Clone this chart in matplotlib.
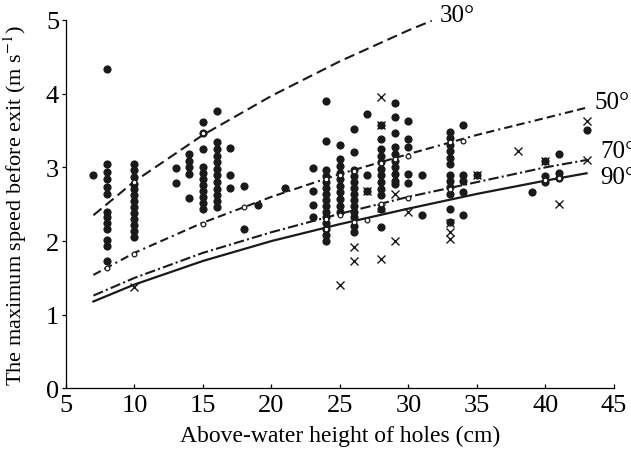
"""Max speed before exit vs above-water hole height, with 30/50/70/90 deg curves."""
import matplotlib; matplotlib.use("Agg")
import matplotlib.pyplot as plt

# ---- data ----
# filled dots: height (cm) -> speeds (m/s)
dots = {
    7: [2.89],
    8: [4.34, 3.04, 2.94, 2.84, 2.74, 2.64, 2.40, 2.32, 2.24, 2.16, 2.02, 1.93, 1.73],
    10: [3.05, 2.96, 2.87, 2.78, 2.70, 2.62, 2.54, 2.46, 2.38, 2.30, 2.22, 2.14, 2.06],
    13: [2.99, 2.79],
    14: [3.18, 3.09, 3.00, 2.91, 2.59],
    15: [3.62, 3.46, 3.25, 3.00, 2.92, 2.84, 2.76, 2.68, 2.60, 2.52, 2.44],
    16: [3.76, 3.34, 3.25, 3.16, 3.07, 2.98, 2.89, 2.80, 2.71, 2.62, 2.54, 2.46],
    17: [3.26, 2.90, 2.72],
    18: [2.75, 2.16],
    19: [2.49],
    21: [2.72],
    23: [2.99, 2.68, 2.49, 2.33],
    24: [3.90, 3.36, 2.96, 2.88, 2.80, 2.72, 2.64, 2.56, 2.48, 2.40, 2.32, 2.24, 2.16, 2.08, 2.00],
    25: [3.30, 3.11, 3.02, 2.93, 2.84, 2.75, 2.66, 2.57, 2.48, 2.39],
    26: [3.52, 3.21, 2.96, 2.88, 2.80, 2.72, 2.64, 2.56, 2.48, 2.40, 2.32, 2.20, 2.12],
    27: [3.72, 2.89, 2.68],
    28: [3.58, 3.39, 3.25, 3.16, 3.07, 2.98, 2.89, 2.80, 2.71, 2.62, 2.44, 2.19],
    29: [3.88, 3.68, 3.47, 3.27, 3.18, 3.09, 3.00, 2.91, 2.82, 2.77],
    30: [3.63, 3.39, 3.27, 2.91, 2.79],
    31: [2.90, 2.35],
    33: [3.48, 3.40, 3.31, 3.22, 3.13, 3.04, 2.90, 2.82, 2.74, 2.64, 2.44, 2.26],
    34: [3.57, 2.89, 2.81, 2.67, 2.35],
    35: [2.90],
    39: [2.67],
    40: [3.09, 2.88, 2.80],
    41: [3.18, 2.93, 2.86],
    43: [3.51],
}
open_x = [8, 10, 10, 15, 15, 18, 24, 24, 24, 25, 25, 26, 26, 27, 28, 28, 29, 30, 30, 33, 33, 34, 40, 41]
open_v = [1.64, 2.80, 1.82, 3.46, 2.23, 2.46, 2.84, 2.30, 2.17, 2.89, 2.36, 2.95, 2.26, 2.28,
          3.06, 2.50, 3.11, 3.16, 2.58, 3.34, 2.71, 3.36, 2.83, 2.86]
cross_x = [10, 25, 26, 26, 27, 28, 28, 28, 28, 29, 29, 30, 33, 33, 33, 35, 38, 40, 41, 43, 43]
cross_v = [1.37, 1.40, 1.92, 1.73, 2.68, 3.96, 3.58, 2.45, 1.75, 2.64, 2.00, 2.39,
           2.25, 2.12, 2.03, 2.90, 3.22, 3.09, 2.50, 3.63, 3.10]

# angle curves (read at a few heights)
x30 = [7, 10, 15, 20, 25, 30, 31.7]
v30 = [2.35, 2.81, 3.44, 3.97, 4.44, 4.86, 4.99]
x_c = [7, 10, 15, 20, 25, 30, 35, 40, 43]
v50 = [1.54, 1.84, 2.25, 2.60, 2.91, 3.18, 3.44, 3.67, 3.81]
v70 = [1.26, 1.50, 1.84, 2.12, 2.37, 2.60, 2.80, 3.00, 3.10]
v90 = [1.18, 1.41, 1.73, 2.00, 2.23, 2.44, 2.64, 2.82, 2.92]

plt.rcParams.update({"font.family": "Liberation Serif", "mathtext.fontset": "stix"})
fig = plt.figure(figsize=(6.31, 4.56), dpi=100)
ax = fig.add_axes([0.1046, 0.146, 0.8684, 0.808])

dx = [h for h, vs in dots.items() for _ in vs]
dv = [v for vs in dots.values() for v in vs]
ax.plot(dx, dv, "o", color="#1a1a1a", ms=5.9, mec="none", zorder=2)

K = "#1a1a1a"
ax.plot(x30, v30, color=K, lw=1.5, dashes=(5, 2.5), zorder=3)
ax.plot(x_c, v50, color=K, lw=1.5, dashes=(4, 2, 4, 2, 1, 2), zorder=3)
ax.plot(x_c, v70, color=K, lw=1.5, dashes=(5, 1.5, 1, 1.5), zorder=3)
ax.plot(x_c, v90, color=K, lw=1.6, zorder=3)

ax.plot(open_x, open_v, "o", ms=3.4, mfc="white", mec=K, mew=0.9, zorder=4)
ax.plot(cross_x, cross_v, "x", ms=6, color=K, mew=1.0, zorder=4)

for txt, xx, yy in [("30°", 32.3, 5.07), ("50°", 43.6, 3.89), ("70°", 44.0, 3.22), ("90°", 44.0, 2.87)]:
    ax.text(xx, yy, txt, fontsize=18, ha="left", va="center", clip_on=False)

ax.set_xlim(5, 45); ax.set_ylim(0, 5)
ax.set_xticks(range(5, 46, 5)); ax.set_yticks(range(0, 6))
ax.spines["top"].set_visible(False); ax.spines["right"].set_visible(False)
for s in ("left", "bottom"):
    ax.spines[s].set_linewidth(0.9)
ax.tick_params(axis="y", direction="out", length=3, width=0.9, labelsize=19, pad=2)
ax.tick_params(axis="x", direction="in", length=3, width=0.9, labelsize=19, pad=4)
ax.set_xlabel("Above-water height of holes (cm)", fontsize=17)
ax.set_ylabel("The maximum speed before exit (m s$^{-1}$)", fontsize=16)
ax.xaxis.set_label_coords(0.5, -0.1)
ax.yaxis.set_label_coords(-0.068, 0.5)

fig.savefig("out.png", dpi=100)
